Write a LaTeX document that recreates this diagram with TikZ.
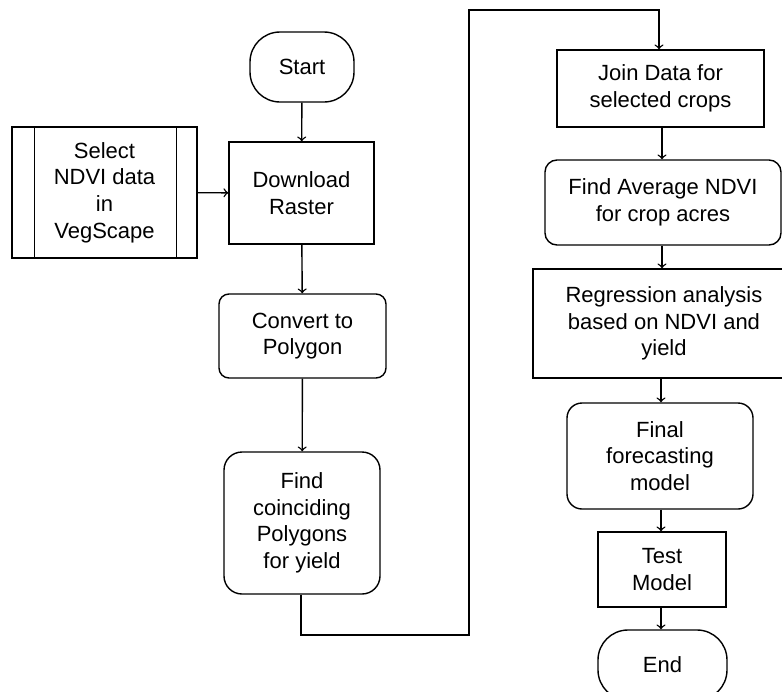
\documentclass[tikz,border=0pt]{standalone}
\usepackage{fontspec}
\setmainfont{Liberation Sans}
\usetikzlibrary{arrows, calc}

\tikzset{
  flowbox/.style={draw, black, line width=0.7pt, align=center, inner sep=0pt,
    font=\fontsize{11}{13.3}\selectfont},
  procbox/.style={flowbox},
  roundbox/.style={flowbox, rounded corners=#1},
  roundbox/.default=6pt,
  termbox/.style={flowbox, rounded corners=15pt},
  flowline/.style={black, line width=0.7pt}
}

\begin{document}
\begin{tikzpicture}[x=0.5pt, y=-0.5pt]
            \useasboundingbox (0,0) rectangle (782,691);
            \clip (0,0) rectangle (782,691);

            % left column
            \node[termbox, minimum width=52pt, minimum height=35pt] (Start) at (302,67) {Start};
            \node[procbox, minimum width=72.5pt, minimum height=51pt] (DownloadRaster) at (301.5,193) {Download\\Raster};
            \node[procbox, minimum width=92.5pt, minimum height=65.5pt] (SelectNDVI) at (104.5,192.5) {Select\\NDVI data\\in\\VegScape};
            \draw[flowline] ($(SelectNDVI.north west)+(23,0)$) -- ($(SelectNDVI.south west)+(23,0)$);% predefined process bars
            \draw[flowline] ($(SelectNDVI.north east)+(-21,0)$) -- ($(SelectNDVI.south east)+(-21,0)$);
            \node[roundbox=5pt, minimum width=83.5pt, minimum height=42pt] (ConvertPolygon) at (302.5,336) {Convert to\\Polygon};
            \node[roundbox=9pt, minimum width=78pt, minimum height=71pt] (FindPolygons) at (302,523) {Find\\coinciding\\Polygons\\for yield};

            % right column
            \node[procbox, minimum width=103.5pt, minimum height=38.5pt] (JoinData) at (660.5,88.5) {Join Data for\\selected crops};
            \node[roundbox=6pt, minimum width=118pt, minimum height=42.5pt] (AverageNDVI) at (663,202.5) {Find Average NDVI\\for crop acres};
            \node[procbox, minimum width=131pt, minimum height=54.5pt] (Regression) at (664,323.5) {Regression analysis\\based on NDVI and\\yield};
            \node[roundbox=7.5pt, minimum width=93pt, minimum height=53pt] (FinalModel) at (660,456) {Final\\forecasting\\model};
            \node[procbox, minimum width=64pt, minimum height=37.5pt] (TestModel) at (662,569.5) {Test\\Model};
            \node[termbox, minimum width=64.5pt, minimum height=35pt] (End) at (662.5,665) {End};

            \coordinate (LoopBottomLeft) at (301,635);
            \coordinate (LoopBottomRight) at (469,635);
            \coordinate (LoopTopLeft) at (469,10);
            \coordinate (LoopTopRight) at (659,10);

            \draw[flowline, ->] (Start) -- (DownloadRaster);
            \draw[flowline, ->] (SelectNDVI) -- (DownloadRaster);
            \draw[flowline, ->] (DownloadRaster) -- (ConvertPolygon);
            \draw[flowline, ->] (ConvertPolygon) -- (FindPolygons);
            \draw[flowline, ->] (FindPolygons.south -| LoopBottomLeft) -- (LoopBottomLeft) -- (LoopBottomRight)
                -- (LoopTopLeft) -- (LoopTopRight) -- (LoopTopRight |- JoinData.north);% jump to second column
            \draw[flowline, ->] (JoinData.south -| 662,0) -- (AverageNDVI.north -| 662,0);
            \draw[flowline, ->] (AverageNDVI.south -| 662,0) -- (Regression.north -| 662,0);
            \draw[flowline, ->] (Regression.south -| 661,0) -- (FinalModel.north -| 661,0);
            \draw[flowline, ->] (FinalModel.south -| 661,0) -- (TestModel.north -| 661,0);
            \draw[flowline, ->] (TestModel.south -| 661,0) -- (End.north -| 661,0);
        \end{tikzpicture}
\end{document}
